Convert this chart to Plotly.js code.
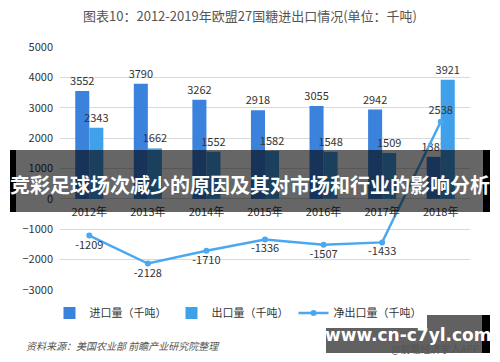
<!DOCTYPE html>
<html><head><meta charset="utf-8">
<script src="https://cdn.plot.ly/plotly-3.0.1.min.js"></script>
<style>html,body{margin:0;padding:0;background:#fff}#c{width:500px;height:362px}</style>
</head><body><div id="c"></div>
<script>
const years = ['2012年','2013年','2014年','2015年','2016年','2017年','2018年'];
const imports = [3552, 3790, 3262, 2918, 3055, 2942, 1383];
const exports_ = [2343, 1662, 1552, 1582, 1548, 1509, 3921];
const netExports = [-1209, -2128, -1710, -1336, -1507, -1433, 2538];
const seriesNames = ['进口量（千吨）','出口量（千吨）','净出口量（千吨）'];
const titleText = '图表10：2012-2019年欧盟27国糖进出口情况(单位：千吨)';
const bannerText = '竞彩足球场次减少的原因及其对市场和行业的影响分析';
const sourceText = '资料来源：美国农业部 前瞻产业研究院整理';
const siteText = 'www.cn-c7yl.com';

const W=500,H=362,L=60,R=30,T=47,B=72;
const pw=W-L-R, ph=H-T-B;
const px = x => (x-L)/pw;
const py = y => (H-B-y)/ph;
const font = 'Microsoft YaHei, "Noto Sans CJK SC", sans-serif';

const netPos = netExports.map((v,i)=> i===netExports.length-1 ? 'top center' : 'bottom center');

const traces = [
 {type:'bar', name:seriesNames[0], x:years, y:imports, marker:{color:'#3b82dc'},
  text:imports.map(String), textposition:'outside', cliponaxis:false, constraintext:'none',
  textfont:{size:11,color:'#333'}},
 {type:'bar', name:seriesNames[1], x:years, y:exports_, marker:{color:'#41a0ea'},
  text:exports_.map(String), textposition:'outside', cliponaxis:false, constraintext:'none',
  textfont:{size:11,color:'#333'}},
 {type:'scatter', mode:'lines+markers+text', name:seriesNames[2], x:years, y:netExports,
  line:{color:'#4aa8f0',width:2.5}, marker:{color:'#4aa8f0',size:6},
  text:netExports.map(String), textposition:netPos, cliponaxis:false,
  textfont:{size:11,color:'#333'}}
];

const layout = {
 width:W, height:H, margin:{l:L,r:R,t:T,b:B},
 paper_bgcolor:'#fff', plot_bgcolor:'#fff',
 font:{family:font, size:11, color:'#333'},
 title:{text:titleText, x:0.5, xanchor:'center', y:1-16/H, yanchor:'middle',
        font:{size:13,color:'#555',family:font}},
 barmode:'group', bargap:0.52, bargroupgap:0,
 showlegend:true,
 legend:{orientation:'h', x:px(238), xanchor:'center', y:py(313), yanchor:'middle',
         font:{size:11,color:'#333'}, itemwidth:30, traceorder:'normal'},
 xaxis:{type:'category', anchor:'free', position:py(199), showline:false, ticks:'',
        showgrid:false, tickfont:{size:11,color:'#333'}, zeroline:false, ticklabelstandoff:5},
 yaxis:{range:[-3000,5000], dtick:1000, tick0:0, showgrid:true, gridcolor:'#d9d9d9',
        zeroline:false, showline:false, ticks:'', tickfont:{size:11,color:'#333'},
        ticklabelstandoff:6},
 shapes:[
  {type:'rect', xref:'paper', yref:'paper', x0:px(10), x1:px(490), y0:py(212), y1:py(150),
   fillcolor:'rgba(0,0,0,0.6)', line:{width:0}, layer:'above'},
  {type:'rect', xref:'paper', yref:'paper', x0:px(10), x1:px(16), y0:py(212), y1:py(150),
   fillcolor:'#000', line:{width:0}, layer:'above'},
  {type:'rect', xref:'paper', yref:'paper', x0:px(483), x1:px(490), y0:py(212), y1:py(150),
   fillcolor:'#000', line:{width:0}, layer:'above'},
  {type:'rect', xref:'paper', yref:'paper', x0:px(326), x1:px(490), y0:py(353), y1:py(315),
   fillcolor:'rgba(0,0,0,0.62)', line:{width:0}, layer:'above'},
  {type:'rect', xref:'paper', yref:'paper', x0:px(482), x1:px(490), y0:py(353), y1:py(315),
   fillcolor:'#000', line:{width:0}, layer:'above'}
 ],
 annotations:[
  {xref:'paper', yref:'paper', x:px(250), y:py(184), text:'<b>'+bannerText+'</b>', showarrow:false,
   xanchor:'center', yanchor:'middle', font:{size:20,color:'#fff',family:font}},
  {xref:'paper', yref:'paper', x:px(24), y:py(345), text:'<i>'+sourceText+'</i>', showarrow:false,
   xanchor:'left', yanchor:'middle', font:{size:10,color:'#555',family:font}},
  {xref:'paper', yref:'paper', x:px(481), y:py(348), text:'@前瞻经济学人APP', showarrow:false,
   xanchor:'right', yanchor:'middle', font:{size:10,color:'#555',family:font}},
  {xref:'paper', yref:'paper', x:px(408), y:py(335), text:'<b>'+siteText+'</b>', showarrow:false,
   xanchor:'center', yanchor:'middle', font:{size:17,color:'#fff',family:'"DejaVu Sans", sans-serif'}}
 ]
};
Plotly.newPlot('c', traces, layout, {displayModeBar:false, staticPlot:true});
</script></body></html>
